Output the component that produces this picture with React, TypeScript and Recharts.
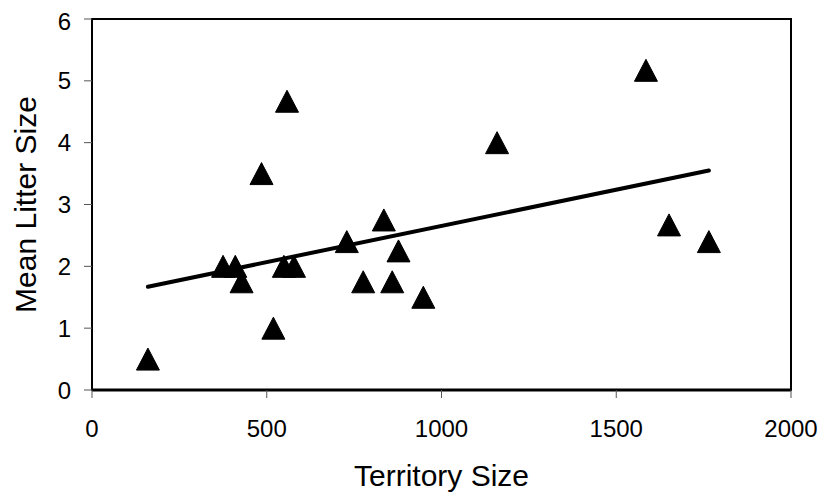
import React from 'react';
import { ScatterChart, Scatter, XAxis, YAxis, ZAxis, ReferenceArea } from 'recharts';

// territory size vs mean litter size
const territory = [160, 375, 410, 428, 485, 519, 549, 558, 578, 729, 776, 835, 859, 877, 948, 1159, 1585, 1651, 1765];
const litter = [0.5, 2, 2, 1.75, 3.5, 1, 2, 4.67, 2, 2.4, 1.75, 2.75, 1.75, 2.25, 1.5, 4, 5.17, 2.67, 2.4];

// fitted line end points
const trendX = [160, 1765];
const trendY = [1.67, 3.55];

const xTicks = [0, 500, 1000, 1500, 2000];
const yTicks = [0, 1, 2, 3, 4, 5, 6];

const points = territory.map((x, i) => ({ x, y: litter[i] }));
const trend = trendX.map((x, i) => ({ x, y: trendY[i] }));

const FONT = '"Liberation Sans", Arial, sans-serif';

const Triangle = (props: any) => {
    const { cx, cy } = props;
    if (cx == null || cy == null) return null;
    const w = 11.5;
    const h = 11;
    return (
        <polygon
            points={`${cx},${cy - h} ${cx - w},${cy + h} ${cx + w},${cy + h}`}
            fill="#000"
            stroke="#000"
            strokeWidth={1}
            strokeLinejoin="round"
        />
    );
};

const YTitle = (props: any) => {
    const vb = props.viewBox || {};
    const cy = vb.y + vb.height / 2;
    return (
        <text x={17} y={cy} transform={`rotate(-90, 17, ${cy})`} textAnchor="middle" dominantBaseline="central"
            fontFamily={FONT} fontSize={30} fill="#000">
            Mean Litter Size
        </text>
    );
};

export default function App() {
    return (
        <div style={{ width: 810, height: 486, background: '#fff' }}>
            <ScatterChart width={810} height={486} margin={{ top: 11, right: 27, bottom: 0, left: 24 }}>
                <XAxis
                    dataKey="x"
                    type="number"
                    domain={[0, 2000]}
                    ticks={xTicks}
                    height={104}
                    tickSize={8}
                    tickMargin={22}
                    tick={{ fill: '#000', fontSize: 24, fontFamily: FONT }}
                    tickLine={{ stroke: '#555', strokeWidth: 1 }}
                    axisLine={{ stroke: '#000', strokeWidth: 3 }}
                    label={{ value: 'Territory Size', position: 'insideBottom', offset: 8, fill: '#000', fontSize: 30, fontFamily: FONT }}
                />
                <YAxis
                    dataKey="y"
                    type="number"
                    domain={[0, 6]}
                    ticks={yTicks}
                    width={60}
                    tickSize={8}
                    tickMargin={13}
                    tick={{ fill: '#000', fontSize: 24, fontFamily: FONT }}
                    tickLine={{ stroke: '#555', strokeWidth: 1 }}
                    axisLine={{ stroke: '#000', strokeWidth: 2 }}
                    label={{ content: <YTitle /> }}
                />
                <ZAxis range={[230, 230]} />
                <ReferenceArea x1={0} x2={2000} y1={0} y2={6} fill="none" stroke="#000" strokeWidth={2} ifOverflow="visible" />
                <Scatter
                    data={trend}
                    line={{ stroke: '#000', strokeWidth: 4, strokeLinecap: 'round' }}
                    shape={() => null}
                    isAnimationActive={false}
                />
                <Scatter data={points} shape={<Triangle />} isAnimationActive={false} />
            </ScatterChart>
        </div>
    );
}
